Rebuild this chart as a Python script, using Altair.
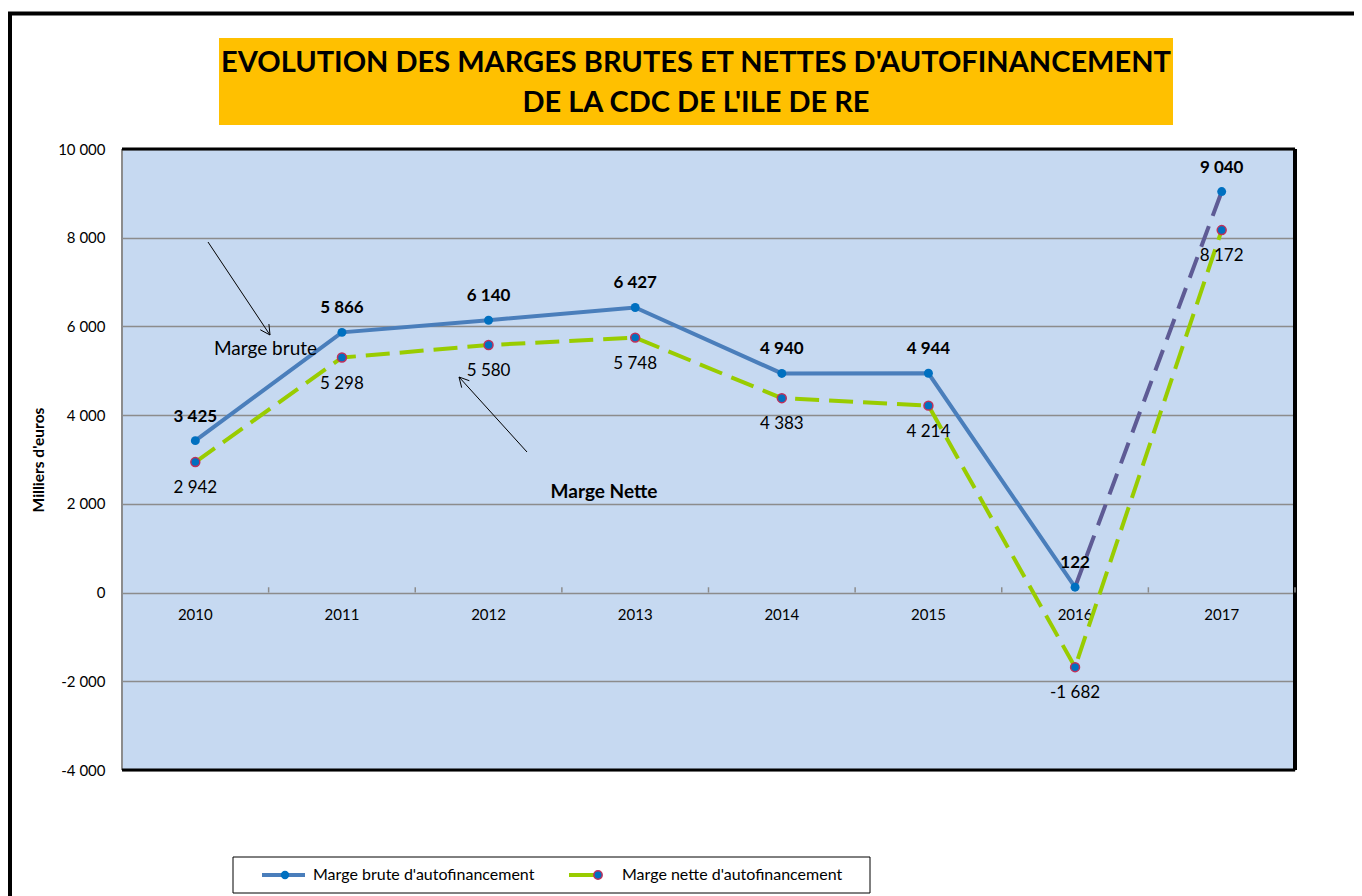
import math
import altair as alt
import pandas as pd

# ---------------- data ----------------
years = ["2010", "2011", "2012", "2013", "2014", "2015", "2016", "2017"]
marge_brute = [3425, 5866, 6140, 6427, 4940, 4944, 122, 9040]
marge_nette = [2942, 5298, 5580, 5748, 4383, 4214, -1682, 8172]
y_ticks = [-4000, -2000, 0, 2000, 4000, 6000, 8000, 10000]
title_lines = ["EVOLUTION DES MARGES BRUTES ET NETTES D'AUTOFINANCEMENT",
               "DE LA CDC DE L'ILE DE RE"]
legend_labels = ["Marge brute d'autofinancement", "Marge nette d'autofinancement"]
annot_brute = "Marge brute"
annot_nette = "Marge Nette"
y_title = "Milliers d'euros"

# ---------------- layout ----------------
W, H = 1173, 621
Y_MIN, Y_MAX = -4000, 10000
FONT = "Lato"
BLUE = "#4a7ebb"
PURPLE = "#5e5b95"
GREEN = "#99cc00"
MARK_BLUE = "#0070c0"
MARK_EDGE = "#c0305a"


def fmt(v):
    return f"{v:,}".replace(",", " ")


df = pd.DataFrame({
    "year": years,
    "brute": marge_brute,
    "nette": marge_nette,
    "brute_lbl": [fmt(v) for v in marge_brute],
    "nette_lbl": [fmt(v) for v in marge_nette],
})
df_solid = df.iloc[:7]
df_dash = df.iloc[6:]

xscale = alt.Scale(type="band", paddingInner=0, paddingOuter=0, domain=years)
yscale = alt.Scale(domain=[Y_MIN, Y_MAX], nice=False, zero=False)

x_axis = alt.Axis(
    orient="bottom", offset=-H * (0 - Y_MIN) / (Y_MAX - Y_MIN), title=None,
    domain=False, ticks=False, labelAngle=0, labelFont=FONT, labelFontSize=15,
    labelColor="#000", labelPadding=15, grid=False,
)
y_axis = alt.Axis(
    values=y_ticks, domain=False, ticks=False, grid=True, gridColor="#8c8c8c",
    gridWidth=1.5, labelFont=FONT, labelFontSize=15, labelColor="#000",
    labelPadding=17,
    labelExpr="replace(replace(format(datum.value, ','), ',', ' '), '\u2212', '-')",
    title=y_title, titleFont=FONT, titleFontSize=15.5, titleFontWeight="bold",
    titleColor="#000", titleX=-84, titleY=H / 2, titleBaseline="middle",
)

X = alt.X("year:N", scale=xscale, axis=x_axis)
Y = lambda f: alt.Y(f, scale=yscale, axis=y_axis)

one = pd.DataFrame({"k": [0]})


def seg(x1, y1, x2, y2, color="#000", width=1.0):
    return alt.Chart(one).mark_rule(color=color, strokeWidth=width).encode(
        x=alt.value(x1), y=alt.value(y1), x2=alt.value(x2), y2=alt.value(y2))


def arrow(x1, y1, x2, y2, head=11, ang=28):
    parts = [seg(x1, y1, x2, y2)]
    a = math.atan2(y1 - y2, x1 - x2)
    for s in (-1, 1):
        t = a + s * math.radians(ang)
        parts.append(seg(x2, y2, x2 + head * math.cos(t), y2 + head * math.sin(t)))
    return parts


layers = []

# outer frame
layers.append(alt.Chart(one).mark_rect(fill=None, stroke="#000", strokeWidth=4).encode(
    x=alt.value(-112), y=alt.value(-135.5), x2=alt.value(1400), y2=alt.value(1000)))

# title box
layers.append(alt.Chart(one).mark_rect(fill="#ffc000").encode(
    x=alt.value(97), x2=alt.value(1051), y=alt.value(-111), y2=alt.value(-24)))
for i, t in enumerate(title_lines):
    layers.append(alt.Chart(pd.DataFrame({"t": [t]})).mark_text(
        font=FONT, fontSize=29, fontWeight="bold", color="#000",
        align="center", baseline="middle").encode(
        x=alt.value(574), y=alt.value(-86 + 40 * i), text="t:N"))

# base axes layer (grid + labels)
layers.append(alt.Chart(df).mark_point(opacity=0).encode(x=X, y=Y("brute:Q")))

# plot border
layers.append(seg(0, 0, 0, H, "#8c8c8c", 2))
layers.append(seg(0, 0, W, 0, "#000", 3))
layers.append(seg(W, 0, W, H, "#000", 4))
layers.append(seg(0, H, W, H, "#000", 3))

# x ticks at band boundaries (pointing up from the zero line)
layers.append(alt.Chart(df).mark_rule(color="#8c8c8c", strokeWidth=1.5).encode(
    x=alt.X("year:N", scale=xscale, axis=x_axis, bandPosition=1),
    y=alt.datum(0, scale=yscale, axis=y_axis), y2=alt.datum(120)))

# lines
layers.append(alt.Chart(df_solid).mark_line(color=BLUE, strokeWidth=4).encode(
    x=X, y=Y("brute:Q")))
layers.append(alt.Chart(df_dash).mark_line(color=PURPLE, strokeWidth=4,
                                           strokeDash=[22, 11]).encode(
    x=X, y=Y("brute:Q")))
layers.append(alt.Chart(df).mark_line(color=GREEN, strokeWidth=4,
                                      strokeDash=[24, 10]).encode(
    x=X, y=Y("nette:Q")))

# markers
layers.append(alt.Chart(df).mark_circle(color=MARK_BLUE, size=80, opacity=1).encode(
    x=X, y=Y("brute:Q")))
layers.append(alt.Chart(df).mark_point(filled=True, fill=MARK_BLUE, stroke=MARK_EDGE,
                                       strokeWidth=1.5, size=80, opacity=1).encode(
    x=X, y=Y("nette:Q")))

# data labels
layers.append(alt.Chart(df).mark_text(font=FONT, fontSize=17, fontWeight="bold",
                                      color="#000", dy=-24, baseline="middle").encode(
    x=X, y=Y("brute:Q"), text="brute_lbl:N"))
layers.append(alt.Chart(df).mark_text(font=FONT, fontSize=17, color="#000",
                                      dy=26, baseline="middle").encode(
    x=X, y=Y("nette:Q"), text="nette_lbl:N"))

# annotations
layers.append(alt.Chart(pd.DataFrame({"t": [annot_brute]})).mark_text(
    font=FONT, fontSize=19, color="#000", align="left", baseline="middle").encode(
    x=alt.value(92), y=alt.value(200), text="t:N"))
layers.append(alt.Chart(pd.DataFrame({"t": [annot_nette]})).mark_text(
    font=FONT, fontSize=19, fontWeight="bold", color="#000", align="center",
    baseline="middle").encode(x=alt.value(482), y=alt.value(343), text="t:N"))
layers += arrow(86, 93, 148, 186)
layers += arrow(405, 303, 337, 228)

# legend
layers.append(alt.Chart(one).mark_rect(fill="#fff", stroke="#000", strokeWidth=1).encode(
    x=alt.value(111), x2=alt.value(748), y=alt.value(708), y2=alt.value(744)))
layers.append(seg(140, 726, 183, 726, BLUE, 4))
layers.append(alt.Chart(one).mark_circle(color=MARK_BLUE, size=70, opacity=1).encode(
    x=alt.value(163), y=alt.value(726)))
layers.append(seg(447, 726, 478, 726, GREEN, 4))
layers.append(alt.Chart(one).mark_point(filled=True, fill=MARK_BLUE, stroke=MARK_EDGE,
                                        strokeWidth=1.5, size=70, opacity=1).encode(
    x=alt.value(476), y=alt.value(726)))
for xx, t in zip([191, 500], legend_labels):
    layers.append(alt.Chart(pd.DataFrame({"t": [t]})).mark_text(
        font=FONT, fontSize=16, color="#000", align="left", baseline="middle").encode(
        x=alt.value(xx), y=alt.value(726), text="t:N"))

chart = alt.layer(*layers).properties(
    width=W, height=H,
    autosize=alt.AutoSizeParams(type="none"),
    padding={"left": 114, "top": 141, "right": 59, "bottom": 126},
).configure_view(fill="#c6d9f1", stroke=None)

chart.save("out.html", embed_options={"renderer": "svg", "actions": False})
